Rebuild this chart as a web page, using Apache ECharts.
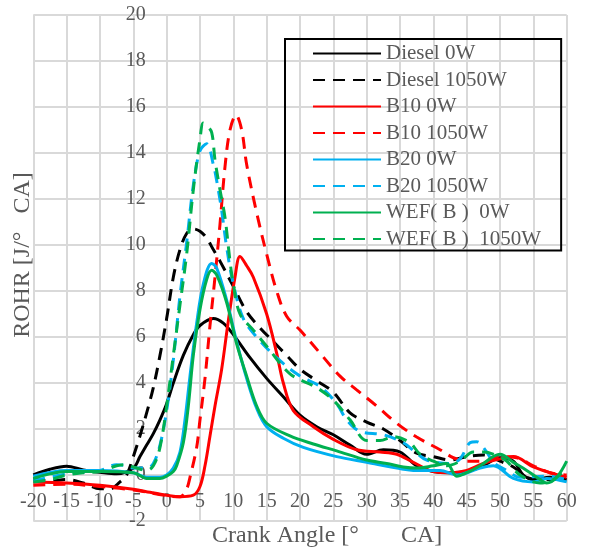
<!DOCTYPE html>
<html>
<head>
<meta charset="utf-8">
<script src="https://cdn.jsdelivr.net/npm/echarts@6/dist/echarts.min.js"></script>
<style>
html,body{margin:0;padding:0;background:#fff;}
#c{width:590px;height:552px;}
</style>
</head>
<body>
<div id="c"></div>
<script>
// Tick settings
const xTicks = {min: -20, max: 60, interval: 5};
const yTicks = {min: -2, max: 20, interval: 2};

const seriesNames = ['Diesel 0W','Diesel 1050W','B10 0W','B10 1050W','B20 0W','B20 1050W','WEF( B )  0W','WEF( B )  1050W'];

// [crank angle, ROHR]
const diesel0W = [[-20,0.0],[-17.5,0.25],[-15,0.38],[-12.5,0.22],[-10,0.12],[-7.5,0.05],[-5,0.3],[-4,0.8],[-3,1.3],[-2,1.8],[-1,2.4],[0,3.1],[1,4.0],[2.5,5.2],[4,6.1],[5,6.5],[7,6.8],[8.5,6.6],[10,6.1],[12.5,5.1],[15,4.2],[17.5,3.4],[20,2.6],[22.5,2.1],[25,1.75],[27.5,1.3],[30,0.9],[32.5,1.1],[35,1.0],[37.5,0.4],[40,0.15],[42.5,0.1],[45,0.15],[47.5,0.4],[50,0.75],[52,0.6],[53.5,0.0],[55,-0.2],[57.5,-0.1],[60,-0.2]];
const diesel1050W = [[-20,-0.2],[-17.5,-0.25],[-15,-0.2],[-12.5,-0.35],[-10,-0.6],[-8.5,-0.6],[-7,-0.3],[-6,0.0],[-5,0.8],[-4,1.7],[-3,2.7],[-2,3.8],[-1,5.2],[0,6.8],[1,8.6],[2,9.8],[3,10.5],[4,10.7],[5,10.6],[6,10.3],[7,9.8],[8,9.3],[10,8.2],[12,7.1],[14,6.4],[16,5.8],[18,5.2],[20,4.6],[22.5,4.1],[25,3.6],[27.5,2.7],[30,2.3],[32.5,2.0],[35,1.5],[37.5,0.95],[40,0.8],[42.5,0.65],[45,0.8],[47.5,0.87],[50,0.6],[52,0.35],[54,-0.1],[56,-0.2],[58,-0.2],[60,-0.2]];
const b10_0W = [[-20,-0.3],[-15,-0.35],[-10,-0.45],[-5,-0.62],[-2.5,-0.75],[0,-0.88],[2,-0.95],[4,-0.88],[5,-0.5],[5.75,0.4],[6.5,1.7],[7.25,3.0],[8.25,4.6],[9.2,6.6],[10.25,8.6],[11,9.5],[12,9.1],[13,8.6],[15,7.0],[16.5,5.3],[17.5,4.0],[19,2.8],[22,2.1],[25,1.55],[28.5,1.1],[32,1.0],[34.5,0.9],[37,0.55],[40,0.15],[42.5,0.1],[45,0.2],[47.5,0.5],[50,0.7],[52,0.8],[55,0.35],[57.5,0.1],[60,-0.1]];
const b10_1050W = [[-20,-0.45],[-15,-0.4],[-10,-0.5],[-5,-0.65],[0,-0.9],[2,-0.95],[3,-0.6],[3.5,-0.1],[4.5,1.2],[5,2.4],[5.75,4.2],[6.5,6.5],[7.25,8.6],[8,10.9],[8.75,13.4],[9.5,15.0],[10.4,15.65],[11.25,15.0],[12,13.5],[13.5,11.4],[15,9.6],[16.5,8.0],[18,6.9],[20,6.3],[23,5.3],[26,4.3],[28.5,3.7],[31.5,3.0],[34.5,2.25],[37.5,1.65],[41,1.1],[43,0.75],[45,0.6],[47.5,0.6],[50,0.8],[52.5,0.75],[55,0.4],[57.5,0.1],[60,0.0]];
const b20_0W = [[-20,-0.05],[-15,0.2],[-10,0.2],[-5,0.1],[-3,-0.1],[-1,-0.1],[0,0.0],[1,0.3],[2,1.0],[2.75,2.4],[3.5,4.3],[4.5,6.6],[5.5,8.3],[6.75,9.2],[7.5,9.0],[9,7.6],[10.5,5.8],[12,4.2],[13.5,2.9],[15,2.1],[17.5,1.6],[20.5,1.2],[25.5,0.8],[30,0.55],[35.5,0.25],[37,0.2],[41,0.2],[43.5,0.0],[47,0.3],[49,0.4],[52,-0.15],[55,-0.3],[57,-0.15],[60,-0.3]];
const b20_1050W = [[-20,-0.25],[-15,0.05],[-10,0.2],[-7.5,0.45],[-6,0.4],[-5,0.3],[-3,0.3],[-2,0.5],[-1,1.3],[0,2.8],[1,5.0],[2,7.8],[3,10.1],[4,12.6],[5,14.1],[6,14.4],[7,13.5],[7.5,12.8],[8.25,11.5],[9,9.9],[10,8.3],[11.5,6.8],[13.5,6.0],[16.5,5.1],[20,4.3],[23,3.85],[25.5,3.1],[27,2.4],[29,1.9],[32.5,1.75],[35.5,1.4],[37.5,0.95],[39,0.65],[42.5,0.5],[44,0.7],[45.5,1.4],[46.5,1.45],[48,1.0],[49,0.55],[51,0.2],[53,-0.1],[57,-0.05],[60,-0.2]];
const wef_0W = [[-20,-0.15],[-17.5,0.05],[-15,0.15],[-10,0.15],[-5,0.1],[-3,-0.15],[-1,-0.15],[0,-0.05],[1,0.15],[1.5,0.4],[2.5,1.4],[3.25,3.0],[4,5.2],[5,7.2],[6,8.5],[6.75,8.9],[7.5,8.7],[9,7.5],[10.5,5.7],[12,4.3],[13.5,3.0],[15,2.25],[18.5,1.7],[22,1.35],[25.5,1.05],[30,0.65],[33,0.5],[35.5,0.35],[37.5,0.3],[40,0.4],[42,0.5],[43.5,-0.05],[45,0.1],[47,0.4],[50,0.9],[52,0.55],[54,0.2],[56,-0.2],[57,-0.35],[58.5,-0.1],[60,0.6]];
const wef_1050W = [[-20,-0.3],[-17.5,-0.2],[-15,0.0],[-12.5,0.1],[-10,0.15],[-7.5,0.4],[-6,0.45],[-5,0.35],[-3,0.2],[-2,0.4],[-1,1.2],[0,3.0],[1,5.2],[2,7.4],[3,9.6],[4,12.4],[5,14.6],[5.5,15.3],[6,15.2],[6.75,14.9],[7.25,13.7],[8,12.4],[8.75,11.2],[9.5,9.3],[10,8.3],[11,7.0],[13,6.3],[15,5.6],[18.5,4.4],[22.5,3.8],[25,3.25],[27.5,2.4],[30,1.5],[32,1.5],[34,1.67],[36.5,1.4],[38,0.9],[40,0.6],[42,0.4],[44,0.6],[46,1.0],[47.5,1.0],[49.5,0.85],[51,0.6],[53,0.0],[56,-0.35],[58,-0.2],[60,0.3]];

const allData = [diesel0W, diesel1050W, b10_0W, b10_1050W, b20_0W, b20_1050W, wef_0W, wef_1050W];
const colors = ['#000000','#000000','#FF0000','#FF0000','#00B0F0','#00B0F0','#00B050','#00B050'];
const dashed = [false,true,false,true,false,true,false,true];

const FONT = "'Liberation Serif', 'Times New Roman', 'Noto Sans CJK SC', serif";
const GREY = '#595959';
const GRID = '#d9d9d9';

const W = 590, H = 552;
const gridBox = {left: 33.3, right: 23.3, top: 15, bottom: 31};
const plotW = W - gridBox.left - gridBox.right;
const plotH = H - gridBox.top - gridBox.bottom;
// offsets so the axes (and their labels) sit on the zero lines
const yAxisOffset = -plotW * (0 - xTicks.min) / (xTicks.max - xTicks.min);
const xAxisOffset = -plotH * (0 - yTicks.min) / (yTicks.max - yTicks.min);

const chart = echarts.init(document.getElementById('c'), null, {renderer: 'canvas'});
chart.setOption({
  animation: false,
  backgroundColor: '#fff',
  color: colors,
  grid: Object.assign({containLabel: false}, gridBox),
  legend: {
    orient: 'vertical',
    left: 285, top: 39,
    padding: [4, 20, 1, 27],
    itemWidth: 68, itemHeight: 14, itemGap: 5.5,
    borderColor: '#000', borderWidth: 2,
    itemStyle: {opacity: 0},
    textStyle: {fontFamily: FONT, fontSize: 21, color: GREY},
    data: seriesNames
  },
  xAxis: {
    type: 'value', min: xTicks.min, max: xTicks.max, interval: xTicks.interval,
    position: 'bottom', offset: xAxisOffset,
    axisLine: {show: false, onZero: false},
    axisTick: {show: false},
    axisLabel: {fontFamily: FONT, fontSize: 20, color: GREY, margin: 17},
    splitLine: {show: true, lineStyle: {color: GRID, width: 2}}
  },
  yAxis: {
    type: 'value', min: yTicks.min, max: yTicks.max, interval: yTicks.interval,
    position: 'left', offset: yAxisOffset,
    axisLine: {show: false, onZero: false},
    axisTick: {show: false},
    axisLabel: {fontFamily: FONT, fontSize: 20, color: GREY, margin: 21},
    splitLine: {show: true, lineStyle: {color: GRID, width: 2}}
  },
  graphic: [
    {type: 'text', left: 212, top: 524, style: {text: 'Crank Angle [°       CA]', fontFamily: FONT, fontSize: 24, fill: GREY}},
    {type: 'text', x: 23, y: 255, rotation: Math.PI / 2, style: {text: 'ROHR [J/°   CA]', fontFamily: FONT, fontSize: 24, fill: GREY, align: 'center', verticalAlign: 'middle'}}
  ],
  series: allData.map((d, i) => ({
    name: seriesNames[i],
    type: 'line',
    data: d,
    smooth: 0.35,
    showSymbol: false,
    symbol: 'none',
    lineStyle: {color: colors[i], width: 3, type: dashed[i] ? [12, 8] : 'solid'},
    itemStyle: {color: colors[i]}
  }))
});
</script>
</body>
</html>
